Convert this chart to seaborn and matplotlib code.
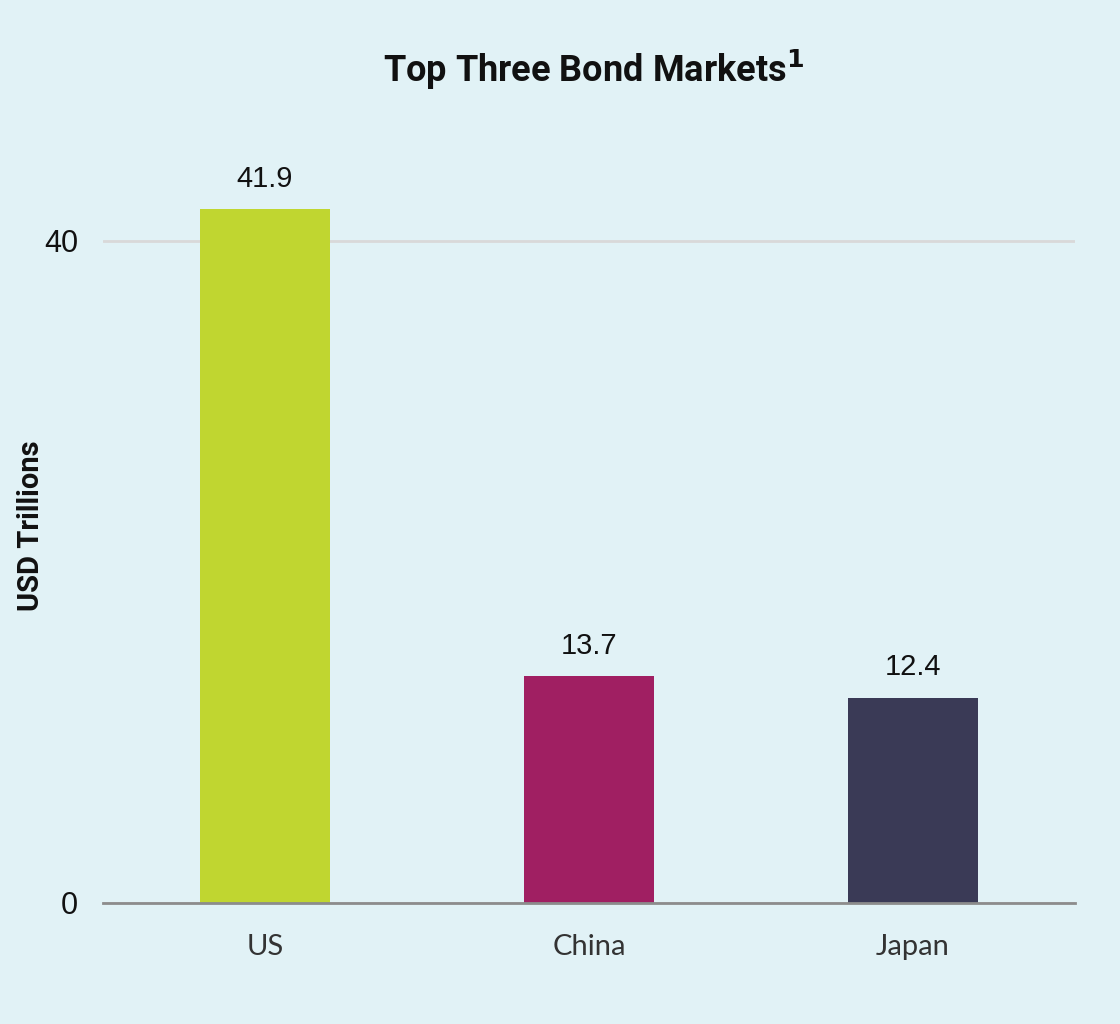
import matplotlib
matplotlib.use("Agg")
import matplotlib.pyplot as plt
import seaborn as sns
import pandas as pd

categories = ["US", "China", "Japan"]
values = [41.9, 13.7, 12.4]
bar_colors = ["#c0d630", "#a01f62", "#3a3a56"]
y_ticks = [0, 40]
title = "Top Three Bond Markets$^{\\mathbf{1}}$"
ylabel = "USD Trillions"

bg = "#e1f2f6"
sns.set_theme(style="white")
plt.rcParams["font.family"] = ["Liberation Sans", "DejaVu Sans"]

df = pd.DataFrame({"market": categories, "value": values})

fig = plt.figure(figsize=(11.2, 10.24), dpi=100, facecolor=bg)
ax = fig.add_axes([103 / 1120, 1 - 903 / 1024, (1075 - 103) / 1120, (903 - 125) / 1024])
ax.set_facecolor(bg)

sns.barplot(data=df, x="market", y="value", hue="market", palette=bar_colors,
            width=0.4, saturation=1, legend=False, ax=ax, zorder=3, linewidth=0)

ax.set_xlim(-0.5, 2.5)
ax.set_ylim(0, 47)
ax.set_yticks(y_ticks)
ax.set_yticklabels([str(t) for t in y_ticks], fontsize=22, color="#111111")
ax.yaxis.grid(True, color="#d9d9d9", linewidth=2, zorder=0)
ax.xaxis.grid(False)
for s in ["top", "right", "left"]:
    ax.spines[s].set_visible(False)
ax.spines["bottom"].set_color("#8c8c8c")
ax.spines["bottom"].set_linewidth(2)
ax.spines["bottom"].set_zorder(4)
ax.tick_params(axis="y", length=0, pad=18)
ax.tick_params(axis="x", length=0, pad=22)
for lbl in ax.get_xticklabels():
    lbl.set_fontfamily(["Lato", "DejaVu Sans"])
    lbl.set_fontweight("normal")
    lbl.set_fontsize(21)
    lbl.set_color("#333333")

ax.set_xlabel("")
ax.set_ylabel("")
fig.text(31 / 1120, 1 - 526 / 1024, ylabel, rotation=90, ha="center", va="center",
         fontsize=21, fontweight="bold", family=["Roboto", "DejaVu Sans"], color="#111111")

for cont in ax.containers:
    ax.bar_label(cont, labels=[f"{v:.1f}" for v in cont.datavalues],
                 padding=12, fontsize=21, color="#111111")

fig.text(594 / 1120, 1 - 70 / 1024, title, ha="center", va="center",
         fontsize=26, fontweight="bold", family=["Roboto", "DejaVu Sans"], color="#111111")

fig.savefig("out.png", dpi=100, facecolor=bg)
